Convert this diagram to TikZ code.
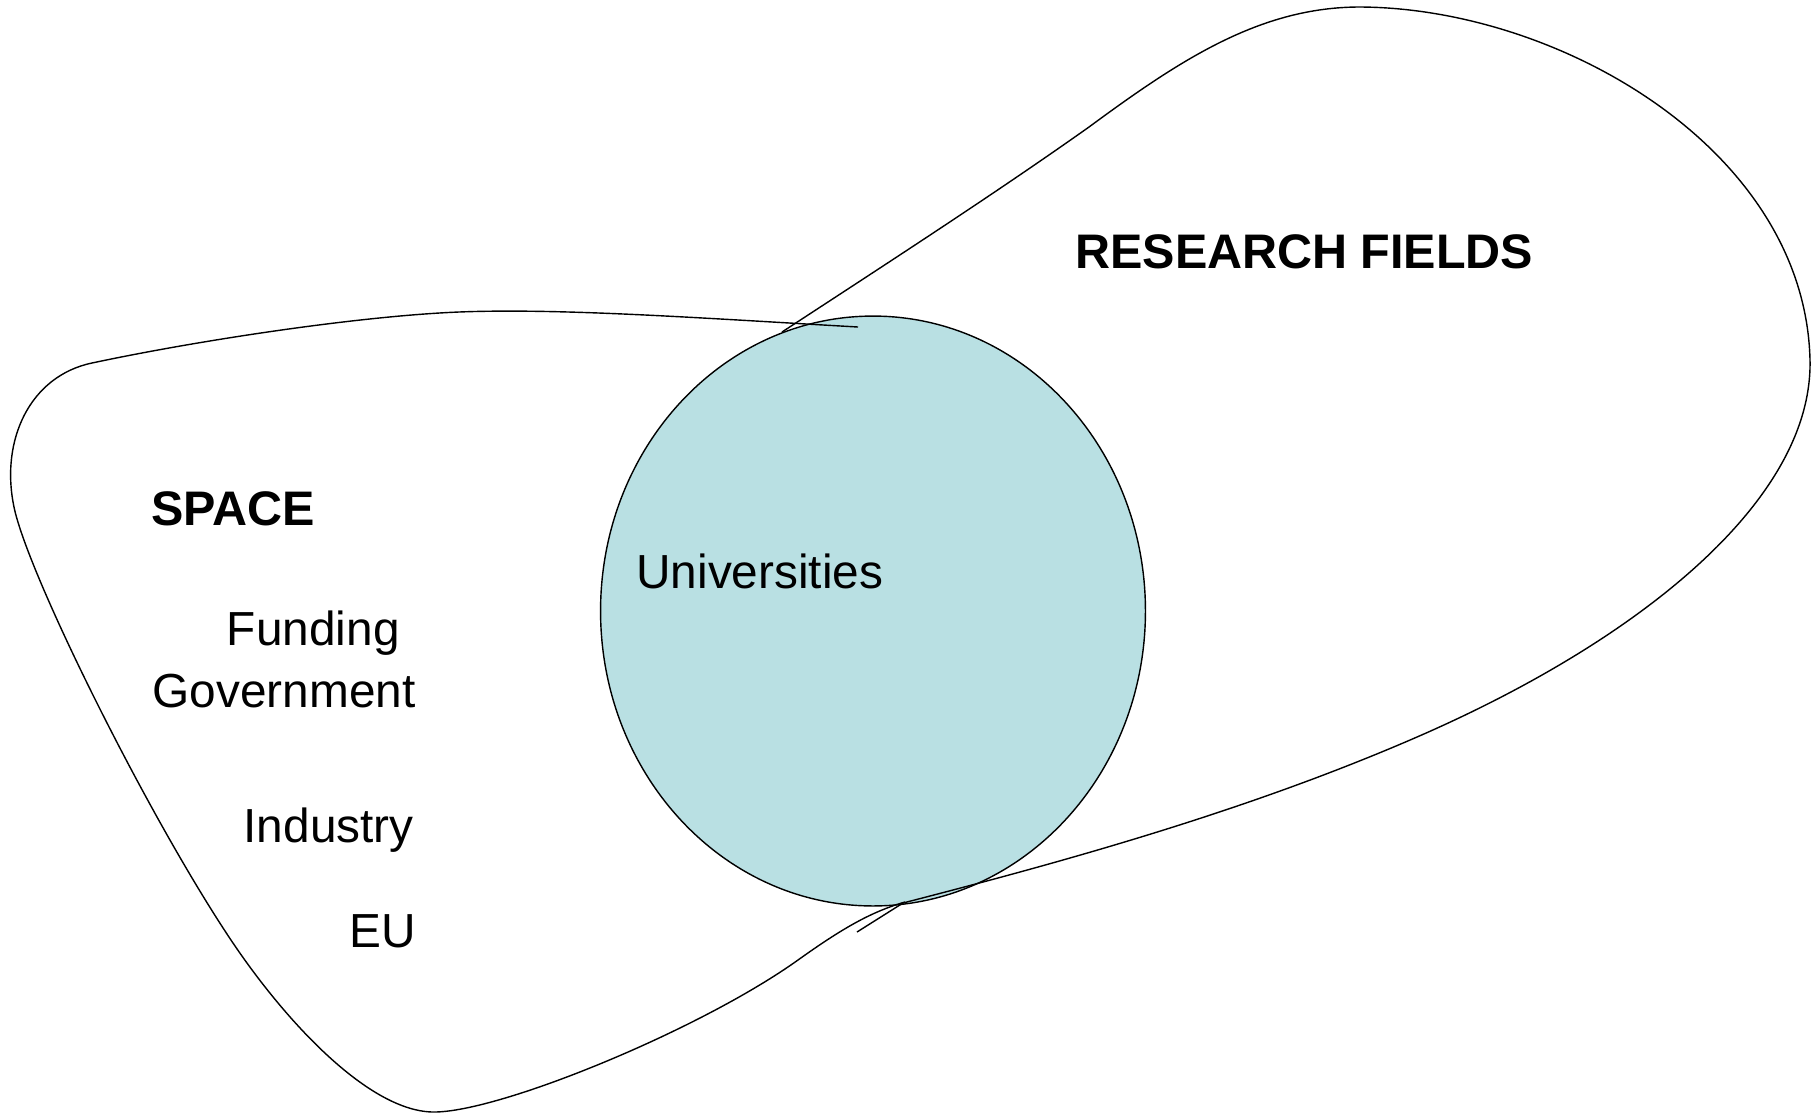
\documentclass[tikz,border=0pt]{standalone}
\usepackage{fontspec}
\setmainfont{Liberation Sans}
\usepackage{tikz}
\usetikzlibrary{shapes.geometric}
\definecolor{univblue}{RGB}{185,224,227}

\begin{document}
\begin{tikzpicture}[x = 0.02cm, y = -0.02cm]
        %style
        \tikzset{txt/.style = {inner sep=0pt, font=\fontsize{27.2}{32}\selectfont}}
        \tikzset{heading/.style = {inner sep=0pt, font=\fontsize{27.6}{32}\selectfont\bfseries}}
        \tikzset{outline/.style = {line width=0.8pt, line join=round}}
        \useasboundingbox (0,0) rectangle (1814,1117);
        \node[ellipse, draw, outline, fill=univblue, inner sep=0pt,
              minimum width=10.9cm, minimum height=11.8cm] (univ) at (873,611) {};
        % space
        \draw[outline] (858,327) .. controls (700,318) and (560,308) .. (459,312)
                .. controls (360,316) and (200,340) .. (92,363)
                .. controls (30,376) and (0,440) .. (14,507)
                .. controls (28,575) and (150,820) .. (233,943)
                .. controls (287,1023) and (370,1112) .. (434,1112)
                .. controls (500,1112) and (700,1030) .. (798,960)
                .. controls (840,930) and (870,912) .. (905,902);
        % research fields
        \draw[outline] (782,332) .. controls (900,255) and (1000,190) .. (1089,127)
                .. controls (1180,60) and (1260,7) .. (1360,7)
                .. controls (1560,8) and (1805,150) .. (1810,360)
                .. controls (1813,500) and (1640,640) .. (1417,737)
                .. controls (1240,814) and (1050,865) .. (903,903)
                -- (857,932);
        \node[heading, anchor=base west] (space)    at (151,525)  {SPACE};
        \node[txt,     anchor=base east] (funding)  at (400,645)  {Funding};
        \node[txt,     anchor=base east] (gov)      at (416,707)  {Government};
        \node[txt,     anchor=base east] (industry) at (414,842)  {Industry};
        \node[txt,     anchor=base east] (eu)       at (416,947)  {EU};
        \node[txt,     anchor=base west] (unis)     at (636,588)  {Universities};
        \node[heading, anchor=base west] (fields)   at (1075,268) {RESEARCH FIELDS};
\end{tikzpicture}
\end{document}
